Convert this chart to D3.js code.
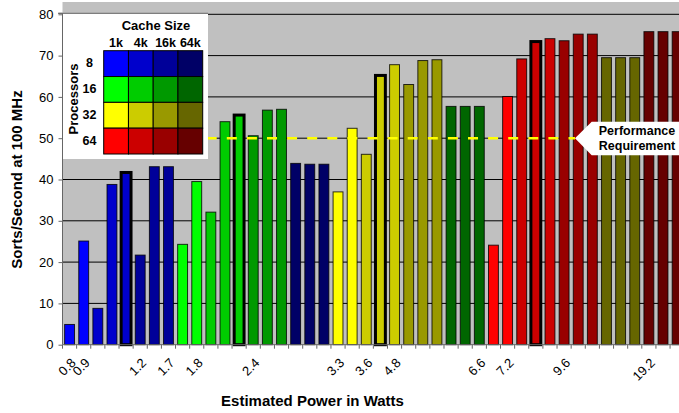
<!DOCTYPE html>
<html><head><meta charset="utf-8">
<script src="https://cdn.jsdelivr.net/npm/d3@7"></script>
<style>body{margin:0;background:#fff}svg{display:block}text{font-family:"Liberation Sans",Arial,sans-serif}</style>
</head><body><svg id="c" width="679" height="413"></svg>
<script>
// ---- data ----
const cacheSizes = ["1k","4k","16k","64k"];
const processorCounts = [8,16,32,64];
const colorGrid = [
  ["#0000FF","#0000CC","#000099","#000066"],
  ["#00FF00","#00CC00","#009900","#006600"],
  ["#FFFF00","#CCCC00","#999900","#666600"],
  ["#FF0000","#CC0000","#990000","#660000"]
];
const barProcessors = [8,8,8,8,8,8,8,8, 16,16,16,16,16,16,16,16, 8,8,8,
  32,32,32,32,32,32,32,32, 16,16,16, 64,64,64,64,64,64,64,64, 32,32,32, 64,64,64];
const barCache = ["1k","1k","4k","4k","4k","16k","16k","16k",
  "1k","1k","4k","4k","4k","16k","16k","16k", "64k","64k","64k",
  "1k","1k","4k","4k","4k","16k","16k","16k", "64k","64k","64k",
  "1k","1k","4k","4k","4k","16k","16k","16k", "64k","64k","64k", "64k","64k","64k"];
const values = [4.9,25.1, 8.8,38.8,41.7, 21.7,43.1,43.1,
  24.3,39.5, 32.1,54.0,55.6, 50.6,56.8,57.0, 43.9,43.7,43.7,
  37.0,52.4, 46.1,65.2,67.8, 63.0,68.8,69.0, 57.7,57.7,57.7,
  24.1,60.1, 69.2,73.4,74.1, 73.6,75.2,75.2, 69.5,69.5,69.5, 75.8,75.8,75.8];
const highlighted = [4,12,22,33];
const tickLabels = ["0.8","0.9","","","","1.2","","1.7","","1.8",
  "","","","2.4","","","","","","3.3",
  "","3.6","","4.8","","","","","","6.6",
  "","7.2","","","","9.6","","","","",
  "","19.2","",""];
const yTicks = [0,10,20,30,40,50,60,70,80];
const requirement = 50;
const xTitle = "Estimated Power in Watts";
const yTitle = "Sorts/Second at 100 MHz";

// ---- chart ----
const svg = d3.select("#c");
const L = 62.5, R = 684.2, T = 14.3, B = 344.7;
const x = d3.scaleBand().domain(d3.range(values.length)).range([L,R]).paddingInner(0.3).paddingOuter(0.15);
const y = d3.scaleLinear().domain([0,80]).range([B,T]);
const colorOf = (p,c) => colorGrid[processorCounts.indexOf(p)][cacheSizes.indexOf(c)];
const step = x.step();

svg.append("rect").attr("x",L).attr("y",2).attr("width",R-L).attr("height",B-2).attr("fill","#C0C0C0");

// gridlines
svg.append("g").selectAll("line").data(yTicks.filter(d=>d>0)).join("line")
  .attr("x1",L).attr("x2",R).attr("y1",d=>y(d)).attr("y2",d=>y(d))
  .attr("stroke","#000").attr("stroke-width",1);

// bars
const bars = values.map((v,i)=>({i,v,p:barProcessors[i],c:barCache[i],hi:highlighted.includes(i)}));
svg.append("g").selectAll("rect").data(bars).join("rect")
  .attr("x",d=>x(d.i)).attr("width",x.bandwidth())
  .attr("y",d=>y(d.v)).attr("height",d=>B-y(d.v))
  .attr("fill",d=>colorOf(d.p,d.c))
  .attr("stroke","#000").attr("stroke-opacity",d=>d.hi?1:0.8)
  .attr("stroke-width",d=>d.hi?3:1);

// y axis
const yAxis = svg.append("g").attr("transform",`translate(${L},0)`)
  .call(d3.axisLeft(y).tickValues(yTicks).tickSize(4).tickPadding(5));
yAxis.select(".domain").attr("stroke","#666").attr("d",`M-4,${y(80)-1}H0V${B}`);
yAxis.selectAll(".tick line").attr("stroke","#666");
yAxis.selectAll(".tick text").attr("font-size",13).attr("fill","#000").attr("font-family","Liberation Sans, Arial, sans-serif");

// x axis
const xAxis = svg.append("g").attr("transform",`translate(0,${B})`);
xAxis.append("line").attr("x1",L).attr("x2",R).attr("y1",0).attr("y2",0).attr("stroke","#666");
xAxis.selectAll("line.t").data(d3.range(values.length+1)).join("line").attr("class","t")
  .attr("x1",d=>L+step*d).attr("x2",d=>L+step*d).attr("y1",0).attr("y2",4).attr("stroke","#666");
xAxis.selectAll("text").data(tickLabels.map((t,i)=>({t,i})).filter(d=>d.t)).join("text")
  .attr("transform",d=>`translate(${x(d.i)+x.bandwidth()/2+7},${19}) rotate(-45)`)
  .attr("text-anchor","end").attr("font-size",13).text(d=>d.t);

// legend box
const lg = svg.append("g");
lg.append("rect").attr("x",63).attr("y",13.3).attr("width",145).attr("height",145.7).attr("fill","#fff");
lg.append("line").attr("x1",58).attr("x2",208).attr("y1",13.3).attr("y2",13.3).attr("stroke","#666");
const cx = d3.scaleBand().domain(cacheSizes).range([103.7,202.7]);
const ry = d3.scaleBand().domain(processorCounts).range([50.7,154]);
processorCounts.forEach((p,pi)=>cacheSizes.forEach((c,ci)=>{
  lg.append("rect").attr("x",cx(c)).attr("y",ry(p)).attr("width",cx.bandwidth()).attr("height",ry.bandwidth())
    .attr("fill",colorGrid[pi][ci]).attr("stroke","#000").attr("stroke-width",1);
}));
lg.append("text").attr("x",156).attr("y",29.5).attr("text-anchor","middle").attr("font-size",13).attr("font-weight","bold").text("Cache Size");
lg.selectAll("text.col").data(cacheSizes).join("text").attr("class","col")
  .attr("x",d=>cx(d)+cx.bandwidth()/2).attr("y",46.5).attr("text-anchor","middle").attr("font-size",12.5).attr("font-weight","bold").text(d=>d);
lg.selectAll("text.row").data(processorCounts).join("text").attr("class","row")
  .attr("x",89.5).attr("y",d=>ry(d)+ry.bandwidth()/2+3.5).attr("text-anchor","middle").attr("font-size",12.5).attr("font-weight","bold").text(d=>d);
lg.append("text").attr("transform","translate(78,99) rotate(-90)").attr("text-anchor","middle").attr("font-size",13).attr("font-weight","bold").text("Processors");

// requirement line + callout
const ry50 = y(requirement);
svg.append("line").attr("x1",208).attr("x2",575).attr("y1",ry50).attr("y2",ry50)
  .attr("stroke","#FFFF00").attr("stroke-width",2.5).attr("stroke-dasharray","10,10.1").attr("stroke-dashoffset",1.3);
svg.append("path").attr("d",`M575,${ry50}L591.7,${ry50-16.5}H690V${ry50+17}H591.7Z`).attr("fill","#fff");
svg.append("text").attr("x",637).attr("y",ry50-3).attr("text-anchor","middle").attr("font-size",12.5).attr("font-weight","bold").text("Performance");
svg.append("text").attr("x",637).attr("y",ry50+11.3).attr("text-anchor","middle").attr("font-size",12.5).attr("font-weight","bold").text("Requirement");

// titles
svg.append("text").attr("x",312.5).attr("y",406).attr("text-anchor","middle").attr("font-size",15).attr("font-weight","bold").text(xTitle);
svg.append("text").attr("transform",`translate(21.5,${(T+B)/2}) rotate(-90)`).attr("text-anchor","middle").attr("font-size",15).attr("font-weight","bold").text(yTitle);
</script></body></html>
